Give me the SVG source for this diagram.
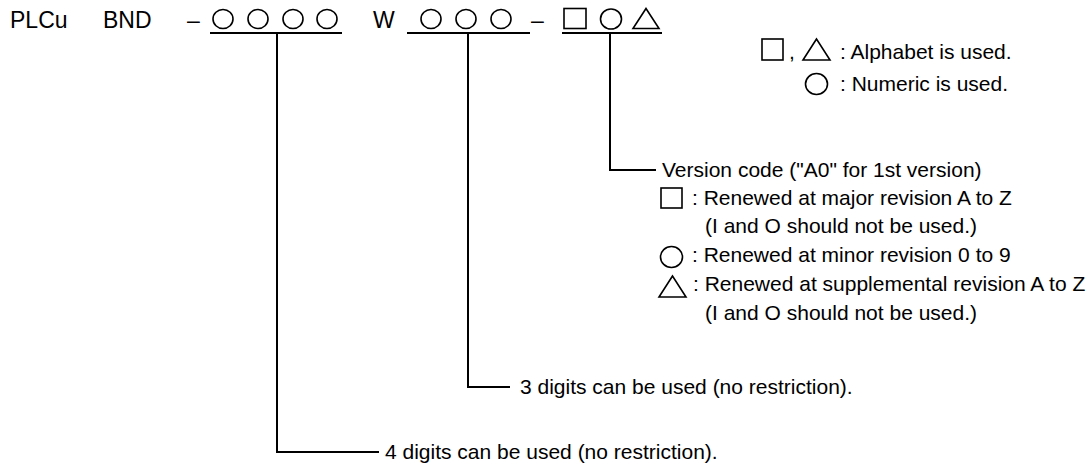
<svg xmlns="http://www.w3.org/2000/svg" width="1092" height="470" viewBox="0 0 1092 470">
<style>
text{font-family:"Liberation Sans",Arial,sans-serif;font-size:21px;fill:#000}
.big{font-size:23px}
.sym{fill:none;stroke:#000;stroke-width:1.6}
.ln{fill:none;stroke:#000;stroke-width:2}
</style>
<rect width="1092" height="470" fill="#fff"/>
<g id="code">
<text class="big" x="10" y="28">PLCu</text>
<text class="big" x="103" y="28">BND</text>
<text class="big" x="187" y="28">–</text>
<ellipse class="sym" cx="223" cy="19" rx="10" ry="9.5"/>
<ellipse class="sym" cx="258" cy="19" rx="10" ry="9.5"/>
<ellipse class="sym" cx="293" cy="19" rx="10" ry="9.5"/>
<ellipse class="sym" cx="327" cy="19" rx="10" ry="9.5"/>
<text class="big" x="373" y="28">W</text>
<ellipse class="sym" cx="431" cy="19" rx="10" ry="9.5"/>
<ellipse class="sym" cx="466" cy="19" rx="10" ry="9.5"/>
<ellipse class="sym" cx="501" cy="19" rx="10" ry="9.5"/>
<text class="big" x="531" y="28">–</text>
<rect class="sym" x="564" y="8.5" width="22" height="20"/>
<ellipse class="sym" cx="611" cy="19" rx="10.5" ry="10"/>
<polygon class="sym" points="646,8.5 633,28.5 659,28.5"/>
</g>
<g id="legend">
<rect class="sym" x="762" y="39" width="21" height="21"/>
<text x="789" y="59">,</text>
<polygon class="sym" points="816.5,39 803,60 830,60"/>
<text x="840" y="59">: Alphabet is used.</text>
<ellipse class="sym" cx="816.5" cy="84" rx="11" ry="10.5"/>
<text x="840" y="91">: Numeric is used.</text>
</g>
<g id="version">
<text x="662" y="177">Version code ("A0" for 1st version)</text>
<rect class="sym" x="661" y="188" width="21" height="20"/>
<text x="692" y="205">: Renewed at major revision A to Z</text>
<text x="705" y="233">(I and O should not be used.)</text>
<ellipse class="sym" cx="671.5" cy="257" rx="11" ry="10.5"/>
<text x="692" y="262">: Renewed at minor revision 0 to 9</text>
<polygon class="sym" points="672.5,276 659,297 686,297"/>
<text x="693" y="291">: Renewed at supplemental revision A to Z</text>
<text x="705" y="320">(I and O should not be used.)</text>
</g>
<g id="three-digits">
<text x="520" y="394">3 digits can be used (no restriction).</text>
</g>
<g id="four-digits">
<text x="385" y="459">4 digits can be used (no restriction).</text>
</g>
<g id="connectors">
<polyline class="ln" points="210,33 342,33"/>
<polyline class="ln" points="277,33 277,452 379,452"/>
<polyline class="ln" points="407,33 530,33"/>
<polyline class="ln" points="468,33 468,387 510,387"/>
<polyline class="ln" points="562,33 662,33"/>
<polyline class="ln" points="610,33 610,170 656,170"/>
</g>
</svg>
